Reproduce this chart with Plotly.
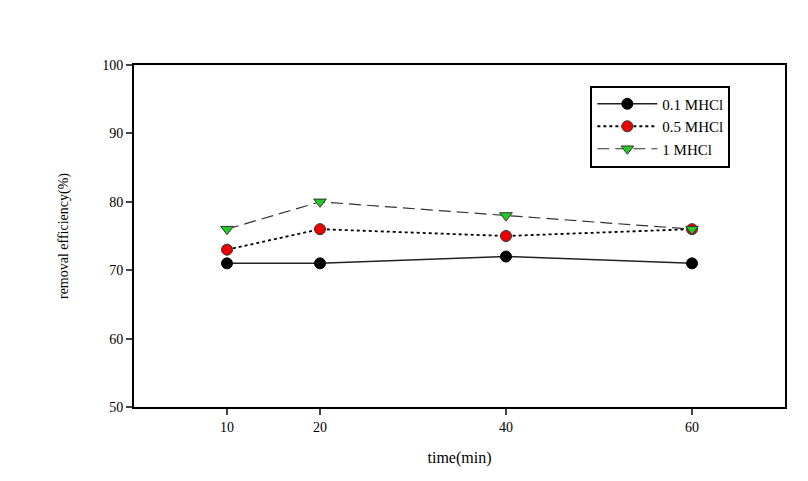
import plotly.graph_objects as go

time = [10, 20, 40, 60]
s01 = [71, 71, 72, 71]
s05 = [73, 76, 75, 76]
s1 = [76, 80, 78, 76]
names = ["0.1 MHCl", "0.5 MHCl", "1 MHCl"]
xticks = [10, 20, 40, 60]
yticks = [50, 60, 70, 80, 90, 100]

font = "Liberation Serif, Times New Roman, serif"
fig = go.Figure()
fig.add_trace(go.Scatter(x=time, y=s01, name=names[0], mode="lines+markers",
                         line=dict(color="#222", width=1.5, dash="solid"),
                         marker=dict(symbol="circle", size=11, color="black", line=dict(color="black", width=1))))
fig.add_trace(go.Scatter(x=time, y=s05, name=names[1], mode="lines+markers",
                         line=dict(color="black", width=1.8, dash="dot"),
                         marker=dict(symbol="circle", size=11, color="#ee0000", line=dict(color="#333", width=1))))
fig.add_trace(go.Scatter(x=time, y=s1, name=names[2], mode="lines+markers",
                         line=dict(color="#333", width=1.2, dash="12px,6px"),
                         marker=dict(symbol="triangle-down", size=11, color="#22cc22", line=dict(color="#333", width=1))))

fig.update_layout(
    width=808, height=481,
    margin=dict(l=134, r=23, t=65, b=74),
    paper_bgcolor="white", plot_bgcolor="white",
    font=dict(family=font, size=14, color="black"),
    showlegend=True,
    legend=dict(x=0.701, y=0.94, xanchor="left", yanchor="top",
                bordercolor="black", borderwidth=2, bgcolor="white",
                font=dict(family=font, size=15, color="black"), tracegroupgap=0,
                itemwidth=60),
    xaxis=dict(range=[0, 70], tickvals=xticks, ticks="outside", ticklen=6, tickwidth=2,
               tickfont=dict(family=font, size=14, color="black"),
               showline=True, linecolor="black", linewidth=2, mirror=True,
               showgrid=False, zeroline=False,
               title=dict(text="time(min)", font=dict(size=16, color="black"), standoff=18)),
    yaxis=dict(range=[50, 100], tickvals=yticks, ticks="outside", ticklen=6, tickwidth=2,
               tickfont=dict(family=font, size=14, color="black"),
               showline=True, linecolor="black", linewidth=2, mirror=True,
               showgrid=False, zeroline=False,
               title=dict(text="removal efficiency(%)", font=dict(size=14, color="black"), standoff=30)),
)
fig.write_html("out.html")
